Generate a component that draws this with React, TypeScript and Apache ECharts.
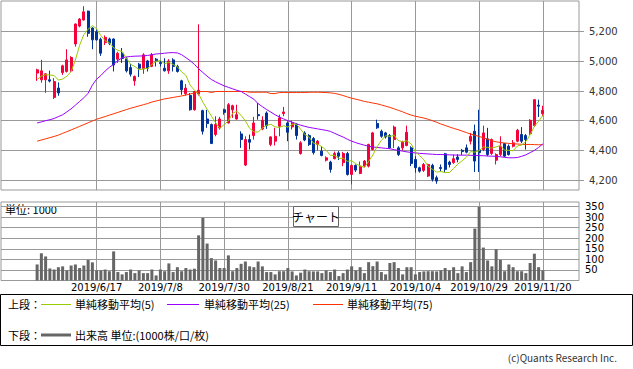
import React, { useEffect, useRef } from 'react';
import * as echarts from 'echarts';

// Trading days (Tokyo), 2019/5/28 - 2019/11/20
const MONTH_DAYS: [number, number[]][] = [
  [5, [28, 29, 30, 31]],
  [6, [3, 4, 5, 6, 7, 10, 11, 12, 13, 14, 17, 18, 19, 20, 21, 24, 25, 26, 27, 28]],
  [7, [1, 2, 3, 4, 5, 8, 9, 10, 11, 12, 16, 17, 18, 19, 22, 23, 24, 25, 26, 29, 30, 31]],
  [8, [1, 2, 5, 6, 7, 8, 9, 13, 14, 15, 16, 19, 20, 21, 22, 23, 26, 27, 28, 29, 30]],
  [9, [2, 3, 4, 5, 6, 9, 10, 11, 12, 13, 17, 18, 19, 20, 24, 25, 26, 27, 30]],
  [10, [1, 2, 3, 4, 7, 8, 9, 10, 11, 15, 16, 17, 18, 21, 23, 24, 25, 28, 29, 30, 31]],
  [11, [1, 5, 6, 7, 8, 11, 12, 13, 14, 15, 18, 19, 20]],
];
const DATES: string[] = MONTH_DAYS.flatMap(([m, ds]) => ds.map((d) => `2019/${m}/${d}`));

const TICK_LABELS = ['2019/6/17', '2019/7/8', '2019/7/30', '2019/8/21', '2019/9/11', '2019/10/4', '2019/10/29', '2019/11/20'];
const PRICE_TICKS = [4200, 4400, 4600, 4800, 5000, 5200];
const VOLUME_TICKS = [50, 100, 150, 200, 250, 300, 350];

const OPEN = [
  4921, 4876, 4876, 4876, 4757, 4820, 4925, 4932, 4936, 5117,
  5238, 5279, 5339, 5225, 5200, 5149, 5126, 5151, 5151, 5015,
  5055, 5017, 4958, 4869, 4981, 4950, 5003, 4966, 5015, 4992,
  4954, 4936, 5010, 4966, 4869, 4782, 4770, 4674, 4780, 4668,
  4612, 4574, 4507, 4552, 4674, 4585, 4674, 4612, 4511, 4301,
  4473, 4500, 4641, 4545, 4652, 4440, 4462, 4563, 4648, 4585,
  4558, 4574, 4379, 4518, 4500, 4480, 4440, 4395, 4334, 4321,
  4344, 4383, 4317, 4379, 4238, 4299, 4245, 4294, 4294, 4406,
  4581, 4529, 4518, 4500, 4473, 4417, 4417, 4433, 4417, 4339,
  4283, 4265, 4227, 4299, 4216, 4285, 4377, 4321, 4317, 4355,
  4400, 4417, 4462, 4529, 4400, 4406, 4478, 4379, 4334, 4372,
  4446, 4428, 4428, 4462, 4507, 4500, 4513, 4567, 4705, 4648,
];
const CLOSE = [
  4943, 4936, 4916, 4867, 4864, 4787, 4970, 5010, 5026, 5252,
  5285, 5334, 5189, 5145, 5145, 5055, 5162, 5122, 4976, 5055,
  5020, 4936, 4914, 4898, 4954, 5044, 4954, 5044, 5003, 4985,
  4936, 5003, 4966, 4932, 4809, 4820, 4674, 4797, 4805, 4529,
  4581, 4446, 4574, 4612, 4656, 4708, 4701, 4641, 4473, 4473,
  4455, 4585, 4634, 4603, 4567, 4491, 4495, 4619, 4659, 4522,
  4585, 4500, 4451, 4470, 4440, 4385, 4462, 4366, 4350, 4272,
  4379, 4361, 4379, 4238, 4299, 4267, 4294, 4328, 4440, 4518,
  4552, 4495, 4490, 4417, 4557, 4372, 4455, 4522, 4312, 4283,
  4260, 4305, 4305, 4205, 4193, 4278, 4272, 4305, 4344, 4339,
  4392, 4388, 4495, 4328, 4385, 4518, 4372, 4473, 4372, 4428,
  4361, 4372, 4451, 4536, 4462, 4473, 4603, 4742, 4698, 4670,
];
const LOW = [
  4869, 4856, 4788, 4858, 4746, 4768, 4909, 4925, 4930, 5099,
  5230, 5274, 5166, 5082, 5140, 5037, 5110, 5110, 4932, 4990,
  4990, 4925, 4898, 4836, 4894, 4916, 4932, 4961, 4966, 4966,
  4932, 4916, 4932, 4925, 4775, 4770, 4668, 4668, 4770, 4507,
  4552, 4446, 4495, 4540, 4641, 4581, 4619, 4607, 4417, 4294,
  4406, 4473, 4607, 4536, 4545, 4428, 4433, 4495, 4630, 4462,
  4540, 4473, 4372, 4462, 4430, 4372, 4400, 4360, 4325, 4250,
  4340, 4335, 4294, 4230, 4171, 4255, 4240, 4285, 4285, 4400,
  4545, 4485, 4480, 4410, 4417, 4362, 4400, 4428, 4294, 4250,
  4250, 4255, 4220, 4190, 4175, 4260, 4250, 4285, 4310, 4320,
  4370, 4380, 4440, 4254, 4254, 4395, 4361, 4370, 4305, 4360,
  4355, 4365, 4420, 4455, 4450, 4406, 4505, 4560, 4625, 4630,
];
const HIGH = [
  4950, 5010, 4920, 4938, 4887, 4858, 4977, 5082, 5035, 5255,
  5292, 5372, 5342, 5230, 5215, 5160, 5175, 5160, 5155, 5065,
  5090, 5030, 4983, 4905, 4990, 5055, 5010, 5057, 5023, 5010,
  5021, 5015, 5021, 4977, 4876, 4847, 4787, 4800, 5250, 4674,
  4674, 4581, 4630, 4626, 4681, 4719, 4708, 4708, 4529, 4495,
  4507, 4626, 4719, 4630, 4663, 4495, 4552, 4641, 4693, 4596,
  4601, 4585, 4462, 4529, 4510, 4490, 4470, 4428, 4360, 4330,
  4392, 4395, 4390, 4390, 4305, 4305, 4325, 4335, 4445, 4525,
  4607, 4540, 4525, 4510, 4567, 4428, 4465, 4567, 4428, 4361,
  4290, 4315, 4310, 4310, 4230, 4305, 4383, 4330, 4372, 4375,
  4410, 4440, 4518, 4574, 4674, 4567, 4552, 4480, 4380, 4495,
  4450, 4440, 4470, 4545, 4557, 4510, 4610, 4745, 4742, 4701,
];
const MA5 = [
  4878, 4900, 4910, 4908, 4905, 4874, 4881, 4900, 4931, 5009,
  5109, 5181, 5217, 5241, 5220, 5174, 5139, 5126, 5092, 5074,
  5067, 5022, 4980, 4965, 4944, 4949, 4953, 4979, 5000, 5006,
  4984, 4994, 4979, 4964, 4929, 4906, 4840, 4806, 4781, 4725,
  4677, 4632, 4587, 4548, 4574, 4599, 4650, 4664, 4636, 4599,
  4549, 4525, 4524, 4550, 4569, 4576, 4558, 4555, 4566, 4557,
  4576, 4577, 4543, 4506, 4489, 4449, 4442, 4425, 4401, 4367,
  4366, 4346, 4348, 4326, 4331, 4309, 4295, 4285, 4326, 4369,
  4426, 4467, 4499, 4494, 4502, 4466, 4458, 4465, 4444, 4389,
  4366, 4336, 4293, 4272, 4254, 4257, 4251, 4251, 4278, 4308,
  4330, 4354, 4392, 4388, 4398, 4423, 4420, 4415, 4424, 4433,
  4401, 4401, 4397, 4430, 4436, 4459, 4505, 4563, 4596, 4637,
];
const MA25 = [
  4585, 4592, 4600, 4607, 4615, 4628, 4640, 4660, 4680, 4705,
  4730, 4755, 4785, 4840, 4880, 4905, 4935, 4960, 4980, 5005,
  5025, 5030, 5033, 5035, 5036, 5037, 5040, 5045, 5050, 5052,
  5055, 5058, 5059, 5057, 5045, 5025, 5005, 4980, 4950, 4925,
  4900, 4878, 4862, 4848, 4835, 4825, 4815, 4805, 4797, 4780,
  4762, 4745, 4715, 4695, 4675, 4658, 4640, 4625, 4612, 4600,
  4590, 4580, 4570, 4562, 4555, 4550, 4545, 4540, 4535, 4528,
  4515, 4502, 4490, 4475, 4462, 4452, 4443, 4435, 4428, 4423,
  4420, 4417, 4414, 4411, 4405, 4400, 4395, 4390, 4386, 4383,
  4380, 4378, 4376, 4374, 4372, 4372, 4371, 4370, 4369, 4368,
  4368, 4368, 4367, 4366, 4365, 4364, 4362, 4361, 4360, 4357,
  4353, 4350, 4350, 4352, 4360, 4370, 4385, 4400, 4420, 4444,
];
const MA75 = [
  4462, 4470, 4478, 4486, 4494, 4503, 4515, 4526, 4538, 4550,
  4562, 4574, 4586, 4598, 4610, 4619, 4628, 4638, 4647, 4656,
  4666, 4675, 4684, 4692, 4700, 4708, 4716, 4726, 4733, 4740,
  4747, 4752, 4757, 4762, 4767, 4773, 4780, 4788, 4796, 4797,
  4797, 4790, 4797, 4797, 4797, 4797, 4797, 4797, 4797, 4797,
  4792, 4792, 4792, 4792, 4792, 4783, 4783, 4790, 4790, 4790,
  4790, 4790, 4790, 4790, 4792, 4792, 4792, 4791, 4790, 4788,
  4784, 4778, 4770, 4760, 4752, 4745, 4738, 4730, 4725, 4719,
  4714, 4706, 4698, 4690, 4680, 4670, 4660, 4648, 4638, 4630,
  4624, 4618, 4610, 4600, 4590, 4578, 4568, 4558, 4548, 4540,
  4530, 4520, 4510, 4502, 4494, 4485, 4475, 4465, 4458, 4453,
  4450, 4447, 4445, 4443, 4441, 4440, 4440, 4439, 4438, 4438,
];
const VOLUME = [
  76, 129, 114, 57, 52, 63, 67, 48, 71, 76,
  59, 71, 98, 86, 48, 48, 52, 44, 138, 40,
  29, 40, 52, 35, 48, 35, 35, 52, 24, 52,
  44, 81, 40, 63, 44, 59, 52, 56, 214, 297,
  175, 106, 95, 59, 59, 119, 44, 59, 79, 90,
  67, 63, 90, 67, 40, 40, 29, 44, 44, 59,
  43, 24, 37, 52, 44, 43, 43, 35, 48, 40,
  52, 21, 35, 52, 67, 48, 63, 35, 87, 68,
  90, 40, 29, 83, 87, 59, 29, 63, 63, 29,
  40, 43, 44, 44, 43, 48, 59, 48, 63, 35,
  67, 40, 87, 246, 349, 156, 95, 67, 148, 98,
  44, 76, 63, 44, 44, 35, 83, 127, 63, 48,
];

const PAD = 8;
const UP = '#f5003a';
const DOWN = '#003399';
const GRID_COLOR = '#999999';
const JP = '"Noto Sans CJK JP", sans-serif';
const NUM = '"DejaVu Sans", sans-serif';

export default function App() {
  const ref = useRef<HTMLDivElement>(null);

  useEffect(() => {
    document.body.style.margin = '0';
    if (!ref.current) return;
    const chart = echarts.init(ref.current, undefined, { renderer: 'svg' });

    const padL = Array.from({ length: PAD }, (_, k) => `pre${k}`);
    const padR = Array.from({ length: PAD }, (_, k) => `post${k}`);
    const cats = [...padL, ...DATES, ...padR];
    const blanks = Array.from({ length: PAD }, () => '-');
    const tickSet = new Set(TICK_LABELS.map((d) => cats.indexOf(d)));

    const candle = [...blanks, ...DATES.map((_, i) => [OPEN[i], CLOSE[i], LOW[i], HIGH[i]])];
    const withPad = (arr: number[]) => [...blanks, ...arr];

    const vLines = {
      silent: true,
      z: 1,
      symbol: ['none', 'none'],
      label: { show: false },
      lineStyle: { color: GRID_COLOR, width: 1, type: 'solid' },
      emphasis: { disabled: true },
      animation: false,
      data: TICK_LABELS.map((d) => ({ xAxis: d })),
    };

    const maLine = (name: string, data: number[], color: string, extra: any = {}) => ({
      name,
      type: 'line',
      xAxisIndex: 0,
      yAxisIndex: 0,
      data: withPad(data),
      symbol: 'none',
      showSymbol: false,
      lineStyle: { color, width: 1 },
      itemStyle: { color },
      emphasis: { disabled: true },
      z: 3,
      ...extra,
    });

    const legendY1 = 304;
    const legendY2 = 335;

    chart.setOption({
      animation: false,
      backgroundColor: '#ffffff',
      grid: [
        { left: 1, top: 1, width: 578, height: 189, show: true, borderColor: GRID_COLOR, borderWidth: 1, backgroundColor: '#ffffff' },
        { left: 1, top: 202, width: 578, height: 78.5, show: true, borderColor: GRID_COLOR, borderWidth: 1, backgroundColor: '#ffffff' },
      ],
      xAxis: [
        {
          type: 'category', gridIndex: 0, data: cats, boundaryGap: true,
          axisLine: { show: false }, axisTick: { show: false }, axisLabel: { show: false }, splitLine: { show: false },
        },
        {
          type: 'category', gridIndex: 1, data: cats, boundaryGap: true,
          axisLine: { show: false }, axisTick: { show: false }, splitLine: { show: false },
          axisLabel: {
            interval: (idx: number) => tickSet.has(idx),
            color: '#000', fontSize: 10, fontFamily: NUM, margin: 2,
          },
        },
      ],
      yAxis: [
        {
          type: 'value', gridIndex: 0, position: 'right', min: 4133, max: 5407,
          axisLine: { show: false },
          axisTick: { show: true, length: 5, customValues: PRICE_TICKS, lineStyle: { color: GRID_COLOR } },
          splitLine: { show: true, lineStyle: { color: GRID_COLOR, width: 1 } },
          axisLabel: {
            customValues: PRICE_TICKS, margin: 10, color: '#333', fontSize: 10, fontFamily: NUM,
            formatter: (v: number) => v.toLocaleString('en-US'),
          },
        },
        {
          type: 'value', gridIndex: 1, position: 'right', min: 0, max: 372,
          axisLine: { show: false },
          axisTick: { show: false, customValues: VOLUME_TICKS },
          splitLine: { show: true, lineStyle: { color: GRID_COLOR, width: 1 } },
          axisLabel: { customValues: VOLUME_TICKS, margin: 6, color: '#000', fontSize: 10, fontFamily: NUM },
        },
      ],
      series: [
        {
          name: '株価',
          type: 'candlestick',
          xAxisIndex: 0,
          yAxisIndex: 0,
          data: candle,
          barWidth: 2.6,
          z: 2,
          emphasis: { disabled: true },
          itemStyle: { color: UP, color0: DOWN, borderColor: UP, borderColor0: DOWN, borderWidth: 1 },
          markLine: vLines,
        },
        maLine('単純移動平均(75)', MA75, '#ff3300'),
        maLine('単純移動平均(25)', MA25, '#9900ff'),
        maLine('単純移動平均(5)', MA5, '#99cc00'),
        {
          name: '出来高',
          type: 'bar',
          xAxisIndex: 1,
          yAxisIndex: 1,
          data: withPad(VOLUME),
          barWidth: 3,
          itemStyle: { color: '#666666' },
          emphasis: { disabled: true },
          z: 2,
          markLine: vLines,
        },
      ],
      graphic: [
        { type: 'text', x: 5, y: 209, style: { text: '単位: 1000', fontSize: 11, fontFamily: JP, fill: '#000', verticalAlign: 'middle' } },
        { type: 'rect', shape: { x: 293.5, y: 206.5, width: 45, height: 20 }, style: { fill: '#fff', stroke: '#666', lineWidth: 1 }, z: 10 },
        { type: 'text', x: 316, y: 216.5, z: 11, style: { text: 'チャート', fontSize: 12, fontFamily: JP, fill: '#000', align: 'center', verticalAlign: 'middle' } },

        { type: 'rect', shape: { x: 0.5, y: 294.5, width: 632, height: 51 }, style: { fill: 'none', stroke: '#000', lineWidth: 1 } },
        { type: 'text', x: 8, y: legendY1, style: { text: '上段：', fontSize: 11, fontFamily: JP, fill: '#000', verticalAlign: 'middle' } },
        { type: 'line', shape: { x1: 41, y1: legendY1 + 0.5, x2: 71, y2: legendY1 + 0.5 }, style: { stroke: '#99cc00', lineWidth: 1 } },
        { type: 'text', x: 75, y: legendY1, style: { text: '単純移動平均(5)', fontSize: 11, fontFamily: JP, fill: '#000', verticalAlign: 'middle' } },
        { type: 'line', shape: { x1: 167, y1: legendY1 + 0.5, x2: 199, y2: legendY1 + 0.5 }, style: { stroke: '#9900ff', lineWidth: 1 } },
        { type: 'text', x: 204, y: legendY1, style: { text: '単純移動平均(25)', fontSize: 11, fontFamily: JP, fill: '#000', verticalAlign: 'middle' } },
        { type: 'line', shape: { x1: 313, y1: legendY1 + 0.5, x2: 343, y2: legendY1 + 0.5 }, style: { stroke: '#ff3300', lineWidth: 1 } },
        { type: 'text', x: 347, y: legendY1, style: { text: '単純移動平均(75)', fontSize: 11, fontFamily: JP, fill: '#000', verticalAlign: 'middle' } },
        { type: 'text', x: 8, y: legendY2, style: { text: '下段：', fontSize: 11, fontFamily: JP, fill: '#000', verticalAlign: 'middle' } },
        { type: 'line', shape: { x1: 41, y1: legendY2, x2: 71, y2: legendY2 }, style: { stroke: '#666666', lineWidth: 3 } },
        { type: 'text', x: 75, y: legendY2, style: { text: '出来高 単位:(1000株/口/枚)', fontSize: 11, fontFamily: JP, fill: '#000', verticalAlign: 'middle' } },

        { type: 'text', x: 617, y: 357, style: { text: '(c)Quants Research Inc.', fontSize: 10, fontFamily: JP, fill: '#333', align: 'right', verticalAlign: 'middle' } },
      ],
    });

    return () => chart.dispose();
  }, []);

  return <div ref={ref} style={{ width: 633, height: 369 }} />;
}
